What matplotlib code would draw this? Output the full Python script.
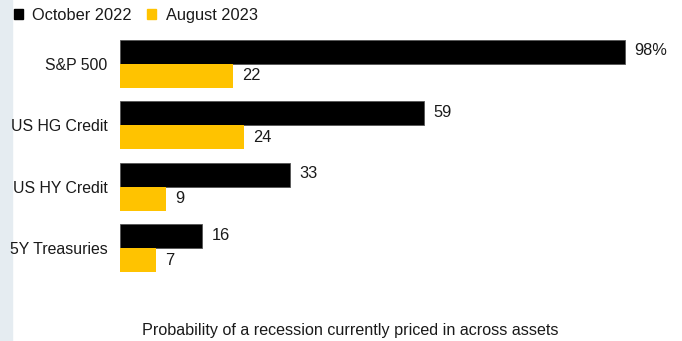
import matplotlib
matplotlib.use("Agg")
import matplotlib.pyplot as plt
from matplotlib.patches import Rectangle
import numpy as np

plt.rcParams['font.family'] = ['Liberation Sans', 'DejaVu Sans']

categories = ["S&P 500", "US HG Credit", "US HY Credit", "5Y Treasuries"]
oct_2022 = [98, 59, 33, 16]
aug_2023 = [22, 24, 9, 7]
series_names = ["October 2022", "August 2023"]
oct_labels = ["98%", "59", "33", "16"]
aug_labels = ["22", "24", "9", "7"]

W, H = 682, 341
fig = plt.figure(figsize=(W/100, H/100), dpi=100)
fig.patch.set_facecolor("white")
# left strip
fig.add_artist(Rectangle((0, 0), 12/W, 1, transform=fig.transFigure, color="#e5ecf1", zorder=0))

FS = 11.8
TC = "#1a1a1a"
ax = fig.add_axes([120/W, 1-272/H, 540/W, 232/H])
ax.set_facecolor("none")
y = np.arange(len(categories))
h = 0.39
b1 = ax.barh(y - h/2, oct_2022, height=h, color="black", edgecolor="#555555", linewidth=0.6)
b2 = ax.barh(y + h/2, aug_2023, height=h, color="#ffc300", linewidth=0)
ax.set_xlim(0, 540/5.153)
ax.set_ylim(3 + h, -h)
for s in ax.spines.values():
    s.set_visible(False)
ax.set_xticks([])
ax.set_yticks(y)
ax.set_yticklabels(categories, fontsize=11.4, color=TC)
ax.tick_params(axis='y', length=0, pad=9)

for rect, lab in zip(b1, oct_labels):
    ax.annotate(lab, (rect.get_width(), rect.get_y() + rect.get_height()/2),
                xytext=(9, 1), textcoords="offset pixels", va="center", ha="left",
                fontsize=FS, color=TC)
for rect, lab in zip(b2, aug_labels):
    ax.annotate(lab, (rect.get_width(), rect.get_y() + rect.get_height()/2),
                xytext=(9, 0), textcoords="offset pixels", va="center", ha="left",
                fontsize=FS, color=TC)

handles = [Rectangle((0, 0), 1, 1, color="black"), Rectangle((0, 0), 1, 1, color="#ffc300")]
fig.legend(handles, series_names, loc="upper left", bbox_to_anchor=(7/W, 1 - 1/H),
           frameon=False, fontsize=FS, handlelength=0.55, handleheight=0.55,
           handletextpad=0.6, columnspacing=0.9, ncol=2, borderaxespad=0,
           labelcolor=TC)

fig.text(350/W, 1 - 330/H, "Probability of a recession currently priced in across assets",
         ha="center", va="center", fontsize=FS - 0.2, color=TC)

fig.savefig("out.png", dpi=100)
